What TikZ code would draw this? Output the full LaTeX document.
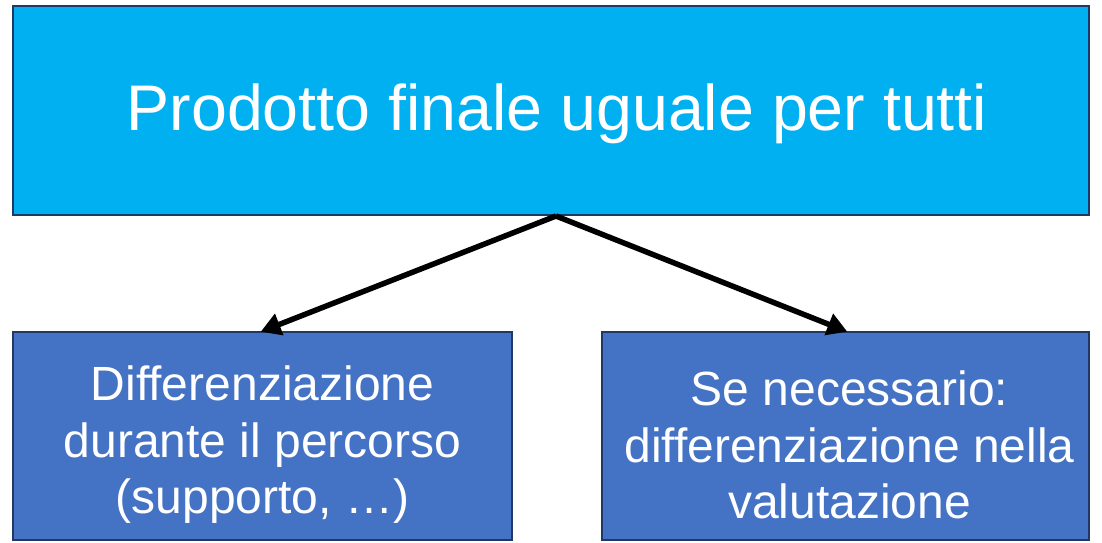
\documentclass[tikz,border=0pt]{standalone}
\usepackage{fontspec}
\setmainfont{Liberation Sans}
\usetikzlibrary{arrows.meta,calc}
\definecolor{topfill}{HTML}{00B0F0}
\definecolor{lowfill}{HTML}{4472C4}
\definecolor{edgecol}{HTML}{1F3864}
\tikzset{
  box/.style={draw=edgecol, line width=2pt, inner sep=0pt},
  topbox/.style={box, fill=topfill, minimum width=1076pt, minimum height=209pt},
  lowbox/.style={box, fill=lowfill, minimum height=208pt},
  toptext/.style={text=white, inner sep=0pt, align=center, font=\fontsize{64.5}{74}\selectfont},
  lowtext/.style={text=white, inner sep=0pt, align=center, font=\fontsize{48}{56.5}\selectfont},
  conn/.style={line width=5.5pt, -{Triangle[length=20pt,width=22pt]}, shorten >=-2pt}
}
\begin{document}
\begin{tikzpicture}[x=1pt,y=1pt]
\useasboundingbox (0,0) rectangle (1102,-542);
\node[topbox] (top) at (551,-110.5) {};
\node[toptext] (toptxt) at ($(top.center)+(6,-3)$) {Prodotto finale uguale per tutti};
\node[lowbox, minimum width=499pt] (left) at (262.5,-436) {};
\node[lowtext] (lefttxt) at ($(left.center)+(0,-9)$) {Differenziazione\\durante il percorso\\(supporto, \dots)};
\node[lowbox, minimum width=487pt] (right) at (845.5,-436) {};
\node[lowtext] (righttxt) at ($(right.center)+(4,-9)$) {Se necessario:\\differenziazione nella\\valutazione};
\coordinate (split) at ($(top.south)+(5,0)$);
\draw[conn] (split) -- (left.north);
\draw[conn] (split) -- (right.north);
\end{tikzpicture}
\end{document}
